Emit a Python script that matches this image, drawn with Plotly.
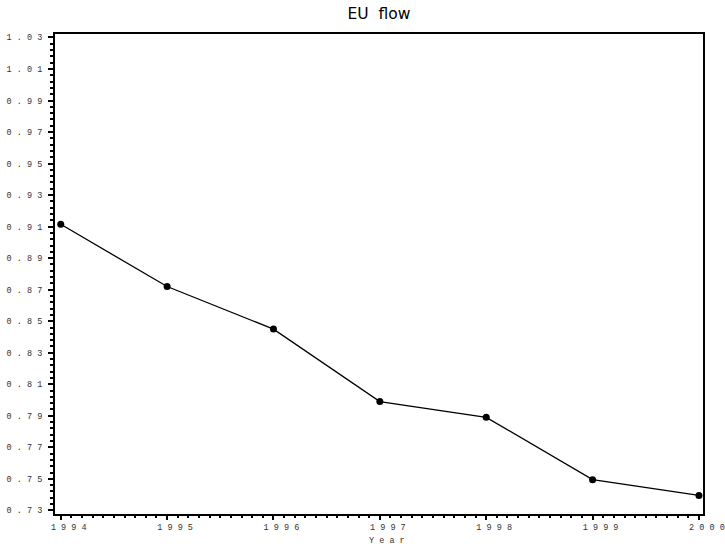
import plotly.graph_objects as go

years = [1994, 1995, 1996, 1997, 1998, 1999, 2000]
flow = [0.9115, 0.872, 0.845, 0.799, 0.789, 0.7495, 0.7395]

ytick_vals = [0.73, 0.75, 0.77, 0.79, 0.81, 0.83, 0.85, 0.87, 0.89, 0.91, 0.93, 0.95, 0.97, 0.99, 1.01, 1.03]
ytick_text = ["0.73", "0.75", "0.77", "0.79", "0.81", "0.83", "0.85", "0.87", "0.89", "0.91",
              "0.93", "0.95", "0.97", "0.99", "1.01", "1.03"]

NB = "\u00a0"


def spaced(s):
    return NB.join(list(s))


fig = go.Figure()
fig.add_trace(go.Scatter(
    x=years, y=flow, mode="lines+markers",
    line=dict(color="black", width=1.3),
    marker=dict(color="black", size=7, symbol="circle"),
    showlegend=False,
))

tickfont = dict(family="Liberation Mono", size=8.5, color="#333")

fig.update_layout(
    width=725, height=546,
    margin=dict(l=55, r=22, t=34, b=32),
    paper_bgcolor="white", plot_bgcolor="white",
    title=dict(text="EU  flow", x=0.5, xref="paper", xanchor="center",
               y=1 - 14 / 546, yref="container", yanchor="middle",
               font=dict(family="DejaVu Sans", size=15.5, color="black")),
    xaxis=dict(
        range=[1993.946, 2000.038], tickmode="array", tickvals=years,
        ticktext=[spaced(str(y)) for y in years],
        ticks="outside", ticklen=4, tickwidth=2, tickcolor="black",
        ticklabelshift=8,
        minor=dict(dtick=0.1, tick0=1994, ticks="outside", ticklen=2, tickwidth=2, tickcolor="black"),
        showline=True, linewidth=2, linecolor="black", mirror=True,
        showgrid=False, zeroline=False, automargin=False, tickfont=tickfont,
    ),
    yaxis=dict(
        range=[0.7277, 1.0322], tickmode="array", tickvals=ytick_vals,
        ticktext=[spaced(t) for t in ytick_text],
        ticks="outside", ticklen=5, tickwidth=2, tickcolor="black",
        ticklabelstandoff=4,
        minor=dict(dtick=0.004, tick0=0.73, ticks="outside", ticklen=3, tickwidth=2, tickcolor="black"),
        showline=True, linewidth=2, linecolor="black", mirror=True,
        showgrid=False, zeroline=False, automargin=False, tickfont=tickfont,
    ),
    annotations=[dict(
        text=spaced("Year"), xref="paper", yref="paper", x=0.5, y=0,
        xanchor="center", yanchor="top", yshift=-20, xshift=8, showarrow=False,
        font=dict(family="Liberation Mono", size=8.5, color="#333"),
    )],
)

fig.write_html("out.html")
